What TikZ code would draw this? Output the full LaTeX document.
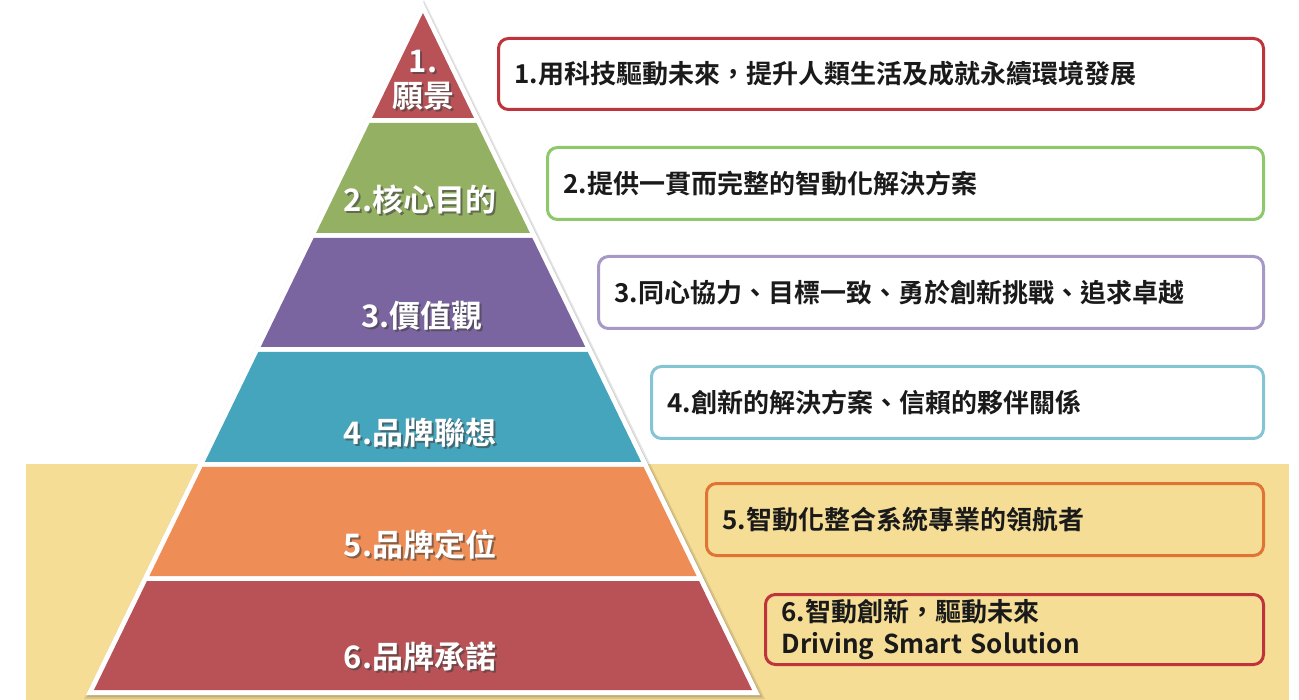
\documentclass[tikz,border=0pt]{standalone}
\usepackage{fontspec}
\setmainfont{Noto Sans CJK TC}[BoldFont={Noto Sans CJK TC Bold}]
\usetikzlibrary{calc}
\definecolor{bgyellow}{HTML}{F5DD96}
\definecolor{bandred}{HTML}{B85256}
\definecolor{bandgreen}{HTML}{93B063}
\definecolor{bandpurple}{HTML}{7B65A0}
\definecolor{bandteal}{HTML}{45A5BC}
\definecolor{bandorange}{HTML}{EE8D55}
\definecolor{bred}{HTML}{BF343B}
\definecolor{bgreen}{HTML}{8DC86B}
\definecolor{bpurple}{HTML}{A799C7}
\definecolor{bteal}{HTML}{85C4D3}
\definecolor{borange}{HTML}{E07434}
\definecolor{txtdark}{HTML}{1A1A1A}
\begin{document}
\begin{tikzpicture}[x=1pt,y=-1pt,
  lbl/.style={text=white,font=\fontsize{31}{35}\selectfont\bfseries,align=center,inner sep=0pt},
  lblshadow/.style={text=black!75,opacity=0.6,font=\fontsize{31}{35}\selectfont\bfseries,align=center,inner sep=0pt},
  rbox/.style={draw,line width=3pt,rounded corners=10pt,anchor=north west,inner xsep=16pt,inner ysep=0pt,
    align=left,text=txtdark,font=\fontsize{26}{32}\selectfont\bfseries}]
\useasboundingbox (0,0) rectangle (1299,700);
% yellow background band
\fill[bgyellow] (26,464) rectangle (1289,700);
% pyramid shadow and white outline
\fill[black,opacity=0.10] (424,0) -- (765,699) -- (84,699) -- cycle;
\fill[black,opacity=0.12] (424,3) -- (762,697) -- (87,697) -- cycle;
\fill[white] (423,2) -- (760,695) -- (86,695) -- cycle;
% bands
\foreach \t/\b/\c in {13/118/bandred,123/233/bandgreen,238/347/bandpurple,352/462/bandteal,467/576/bandorange,581/690/bandred}{
  \pgfmathsetmacro\wt{(\t-13)*0.486}
  \pgfmathsetmacro\wb{(\b-13)*0.486}
  \fill[\c] (423-\wt,\t) -- (423+\wt,\t) -- (423+\wb,\b) -- (423-\wb,\b) -- cycle;
}
% pyramid labels
\node[lblshadow] (l1s) at (425,82) {1.\\願景};
\node[lbl] (l1) at (423,80) {1.\\願景};
\node[lblshadow] (l2s) at (422,202) {2.核心目的};
\node[lbl] (l2) at (420,200) {2.核心目的};
\node[lblshadow] (l3s) at (424,318) {3.價值觀};
\node[lbl] (l3) at (422,316) {3.價值觀};
\node[lblshadow] (l4s) at (422,435) {4.品牌聯想};
\node[lbl] (l4) at (420,433) {4.品牌聯想};
\node[lblshadow] (l5s) at (422,547) {5.品牌定位};
\node[lbl] (l5) at (420,545) {5.品牌定位};
\node[lblshadow] (l6s) at (422,659) {6.品牌承諾};
\node[lbl] (l6) at (420,657) {6.品牌承諾};
% right boxes
\node[rbox,draw=bred,fill=white,minimum width=765pt,minimum height=71pt,text width=733pt] (b1) at (497,37)
  {1.用科技驅動未來，提升人類生活及成就永續環境發展};
\node[rbox,draw=bgreen,fill=white,minimum width=716pt,minimum height=72pt,text width=684pt] (b2) at (546,146)
  {2.提供一貫而完整的智動化解決方案};
\node[rbox,draw=bpurple,fill=white,minimum width=665pt,minimum height=72pt,text width=633pt] (b3) at (597,255)
  {3.同心協力、目標一致、勇於創新挑戰、追求卓越};
\node[rbox,draw=bteal,fill=white,minimum width=612pt,minimum height=72pt,text width=580pt] (b4) at (650,365)
  {4.創新的解決方案、信賴的夥伴關係};
\node[rbox,draw=borange,minimum width=557pt,minimum height=72pt,text width=525pt] (b5) at (705,482)
  {5.智動化整合系統專業的領航者};
\node[rbox,draw=bred,minimum width=498pt,minimum height=70pt,text width=466pt] (b6) at (764,593)
  {6.智動創新，驅動未來\\Driving Smart Solution};
\end{tikzpicture}
\end{document}
